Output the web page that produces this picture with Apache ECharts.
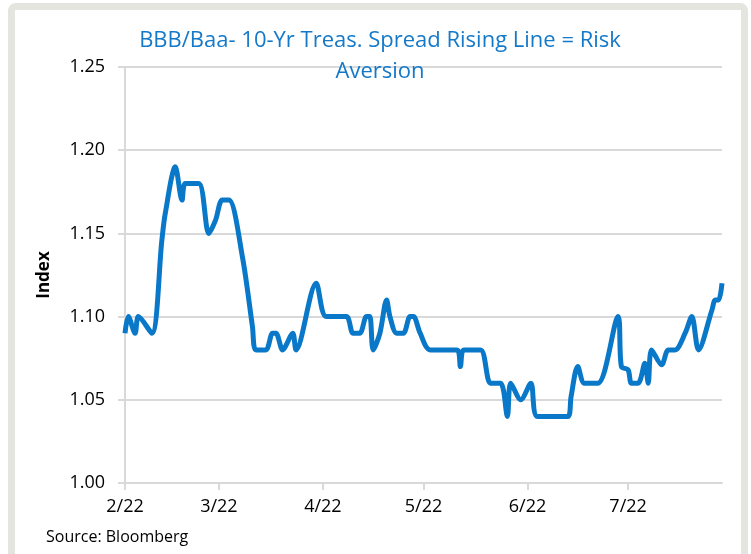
<!DOCTYPE html>
<html>
<head>
<meta charset="utf-8">
<script src="https://cdn.jsdelivr.net/npm/echarts@6/dist/echarts.min.js"></script>
<style>
  html, body { margin: 0; padding: 0; background: #ffffff; }
  #chart { width: 751px; height: 554px; }
</style>
</head>
<body>
<div id="chart"></div>
<script>
// ---- data ----
const axisStart = '2022-02-01';
const axisEnd = '2022-07-29';
const pointDates = [
  '2022-02-01','2022-02-02','2022-02-04','2022-02-05','2022-02-09','2022-02-12','2022-02-13',
  '2022-02-16','2022-02-18','2022-02-19','2022-02-23','2022-02-26','2022-02-28',
  '2022-03-02','2022-03-04','2022-03-08','2022-03-11','2022-03-12','2022-03-15','2022-03-17',
  '2022-03-18','2022-03-20','2022-03-23','2022-03-24','2022-03-30',
  '2022-04-02','2022-04-08','2022-04-10','2022-04-12','2022-04-14','2022-04-15','2022-04-16',
  '2022-04-18','2022-04-20','2022-04-21','2022-04-23','2022-04-25','2022-04-27','2022-04-28','2022-04-30',
  '2022-05-03','2022-05-11','2022-05-12','2022-05-13','2022-05-18','2022-05-21','2022-05-24',
  '2022-05-26','2022-05-27','2022-05-30',
  '2022-06-02','2022-06-04','2022-06-13','2022-06-14','2022-06-16','2022-06-18','2022-06-22',
  '2022-06-28','2022-06-29',
  '2022-07-01','2022-07-02','2022-07-04','2022-07-06','2022-07-07','2022-07-08','2022-07-11',
  '2022-07-13','2022-07-15','2022-07-18','2022-07-20','2022-07-22','2022-07-26','2022-07-27',
  '2022-07-28','2022-07-29'
];
const pointValues = [
  1.09, 1.10, 1.09, 1.10, 1.09, 1.146, 1.162,
  1.19, 1.17, 1.18, 1.18, 1.15, 1.158,
  1.17, 1.17, 1.136, 1.094, 1.08, 1.08, 1.09,
  1.09, 1.08, 1.09, 1.08, 1.12,
  1.10, 1.10, 1.09, 1.09, 1.10, 1.10, 1.08,
  1.09, 1.11, 1.10, 1.09, 1.09, 1.10, 1.10, 1.09,
  1.08, 1.08, 1.07, 1.08, 1.08, 1.06, 1.06,
  1.04, 1.06, 1.05,
  1.06, 1.04, 1.04, 1.052, 1.07, 1.06, 1.06,
  1.10, 1.07,
  1.068, 1.06, 1.06, 1.072, 1.06, 1.08, 1.071,
  1.08, 1.08, 1.09, 1.10, 1.08, 1.104, 1.11,
  1.11, 1.12
];
const yTicks = [1.00, 1.05, 1.10, 1.15, 1.20, 1.25];
const titleText = 'BBB/Baa- 10-Yr Treas. Spread Rising Line = Risk\nAversion';
const yName = 'Index';
const sourceText = 'Source: Bloomberg';

// ---- build daily categories ----
function ymd(d) {
  const m = d.getUTCMonth() + 1, day = d.getUTCDate();
  return d.getUTCFullYear() + '-' + (m < 10 ? '0' : '') + m + '-' + (day < 10 ? '0' : '') + day;
}
const categories = [];
{
  let d = new Date(axisStart + 'T00:00:00Z');
  const e = new Date(axisEnd + 'T00:00:00Z');
  while (d <= e) { categories.push(ymd(d)); d = new Date(d.getTime() + 86400000); }
}
const isMonthStart = (idx, val) => val.slice(8, 10) === '01';
const seriesData = pointDates.map((d, i) => [d, pointValues[i]]);

const chart = echarts.init(document.getElementById('chart'), null, { renderer: 'canvas' });
const font = '"Open Sans", "Liberation Sans", sans-serif';
chart.setOption({
  animation: false,
  backgroundColor: '#ffffff',
  title: {
    text: titleText,
    left: 375,
    top: 20,
    textAlign: 'center',
    textStyle: { color: '#1479c9', fontFamily: font, fontSize: 22, fontWeight: 'normal', lineHeight: 31 }
  },
  grid: { left: 125, right: 29, top: 67, bottom: 71, containLabel: false },
  xAxis: {
    type: 'category',
    data: categories,
    boundaryGap: false,
    axisLine: { lineStyle: { color: '#d9d9d9', width: 2 } },
    axisTick: { show: true, interval: isMonthStart, length: 7, lineStyle: { color: '#d9d9d9', width: 2 } },
    axisLabel: {
      interval: isMonthStart,
      margin: 15,
      color: '#000',
      fontFamily: font,
      fontSize: 18,
      formatter: v => (parseInt(v.slice(5, 7), 10)) + '/' + v.slice(2, 4)
    },
    splitLine: { show: false }
  },
  yAxis: {
    type: 'value',
    min: yTicks[0],
    max: yTicks[yTicks.length - 1],
    interval: 0.05,
    name: yName,
    nameLocation: 'middle',
    nameGap: 72,
    nameTextStyle: { color: '#000', fontFamily: font, fontSize: 17, fontWeight: 'bold' },
    axisLine: { show: true, lineStyle: { color: '#d9d9d9', width: 2 } },
    axisTick: { show: true, length: 7, lineStyle: { color: '#d9d9d9', width: 2 } },
    axisLabel: { color: '#000', fontFamily: font, fontSize: 18, margin: 20, formatter: v => v.toFixed(2) },
    splitLine: { show: true, lineStyle: { color: '#d9d9d9', width: 2 } }
  },
  series: [{
    type: 'line',
    data: seriesData,
    smooth: 0.3,
    showSymbol: false,
    lineStyle: { color: '#0a78c8', width: 5 },
    z: 3
  }],
  graphic: [
    {
      type: 'rect',
      shape: { x: 11.5, y: 6.5, width: 733, height: 620, r: 4 },
      style: { fill: 'none', stroke: '#e5e5e0', lineWidth: 7 },
      silent: true
    },
    {
      type: 'text',
      left: 46,
      top: 529,
      style: { text: sourceText, fill: '#000', font: '16px ' + font }
    }
  ]
});
</script>
</body>
</html>
